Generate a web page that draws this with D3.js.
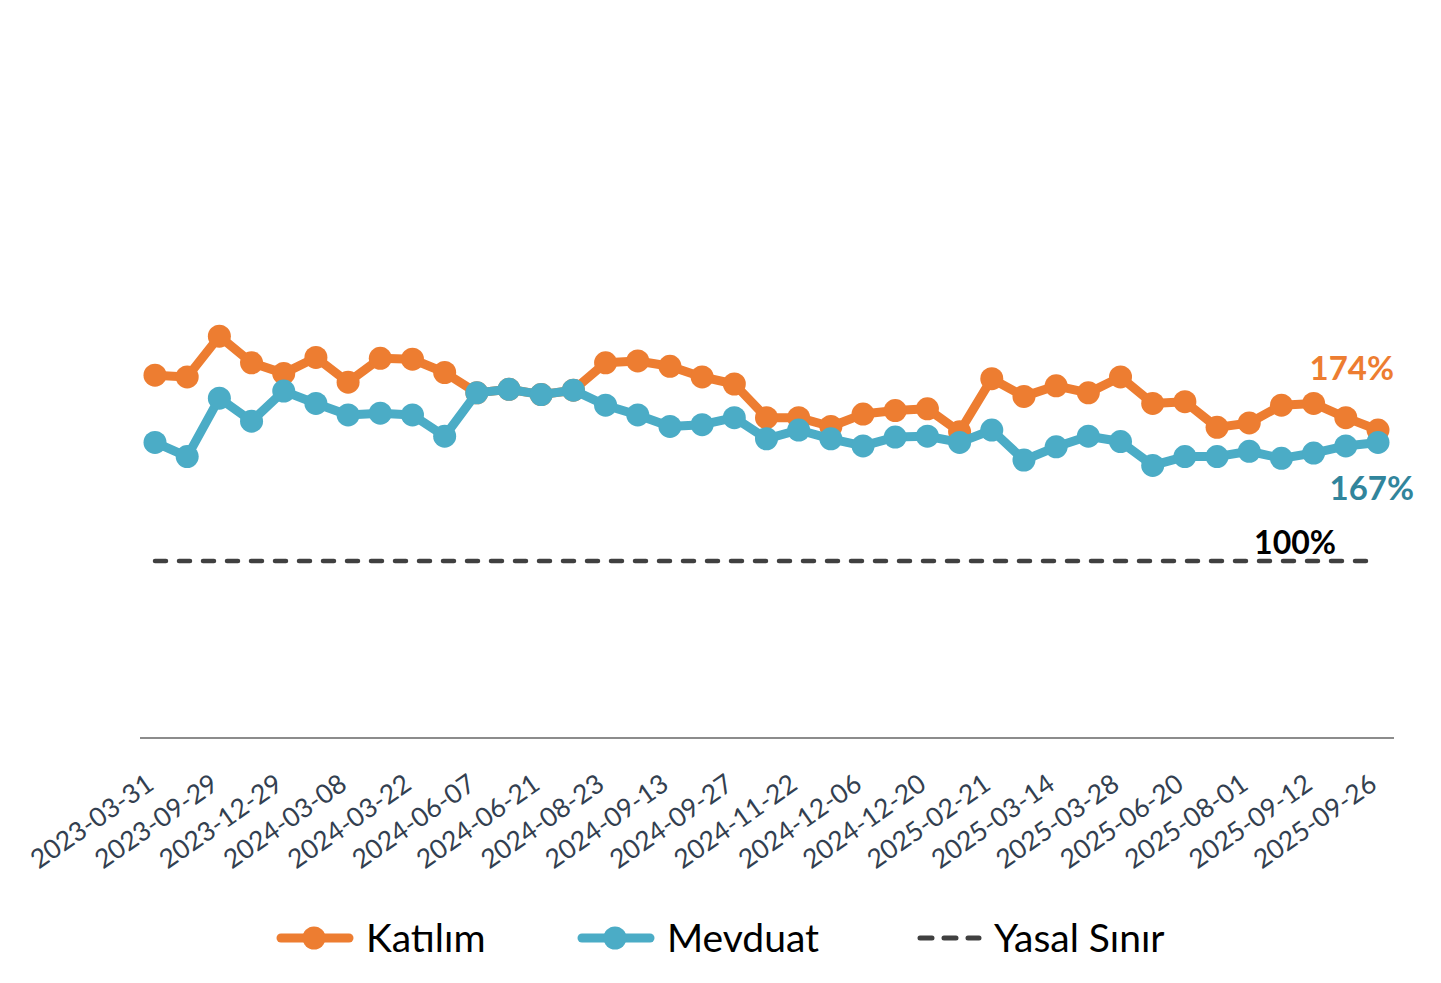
<!DOCTYPE html>
<html>
<head>
<meta charset="utf-8">
<script src="https://cdn.jsdelivr.net/npm/d3@7"></script>
<style>
  body { margin: 0; background: #fff; }
  svg { font-family: Lato, "Open Sans", sans-serif; }
</style>
</head>
<body>
<svg width="1441" height="983"></svg>
<script>
const tickLabels = ["2023-03-31", "2023-09-29", "2023-12-29", "2024-03-08", "2024-03-22",
  "2024-06-07", "2024-06-21", "2024-08-23", "2024-09-13", "2024-09-27", "2024-11-22",
  "2024-12-06", "2024-12-20", "2025-02-21", "2025-03-14", "2025-03-28", "2025-06-20",
  "2025-08-01", "2025-09-12", "2025-09-26"];

// weekly points, only every other one carries a date label
const katilim = [205, 204, 227, 212, 206, 215, 201, 214.5, 214, 206.5,
  195, 197, 194, 196.5, 212, 213, 210, 204, 200, 181,
  181, 176, 183, 185, 186, 173, 203, 193, 199, 195,
  204, 189, 190, 175.5, 178, 188, 189, 181, 174];
const mevduat = [167, 159, 192, 179, 196, 189, 182.5, 183.5, 182.5, 170.5,
  195, 197, 194, 196.5, 188, 182.5, 176, 177, 181, 169,
  174, 169, 165, 170, 170.5, 167, 174, 157, 164.5, 170.5,
  167.5, 154, 159, 159, 162, 158, 161, 165, 167];
const yasalSinir = 100;

const colors = { katilim: "#ED7D31", mevduat: "#4BACC6", limit: "#404040" };

const svg = d3.select("svg");
const n = katilim.length;

const x = d3.scalePoint().domain(d3.range(n)).range([155, 1378]);
const y = d3.scaleLinear().domain([0, 400]).range([738, 30]);

// category axis
const xAxis = svg.append("g")
  .attr("transform", "translate(0,738)")
  .call(d3.axisBottom(x)
    .tickValues(d3.range(0, n, 2))
    .tickFormat(i => tickLabels[i / 2])
    .tickSize(0));
xAxis.attr("font-family", null).attr("font-size", null);
xAxis.select(".domain").remove();
svg.append("line")
  .attr("x1", 140).attr("x2", 1394)
  .attr("y1", 738).attr("y2", 738)
  .attr("stroke", "#8c8c8c").attr("stroke-width", 2);
xAxis.selectAll("text")
  .attr("fill", "#333F50")
  .style("font-size", "26.5px")
  .attr("text-anchor", "end")
  .attr("dy", 0)
  .attr("y", 0)
  .attr("transform", "translate(0,50) rotate(-35)");

// legal limit
svg.append("line")
  .attr("x1", x(0)).attr("x2", x(n - 1))
  .attr("y1", y(yasalSinir)).attr("y2", y(yasalSinir))
  .attr("stroke", colors.limit)
  .attr("stroke-width", 4.5)
  .attr("stroke-linecap", "round")
  .attr("stroke-dasharray", "11 13");

const line = d3.line().x((d, i) => x(i)).y(d => y(d));

function drawSeries(data, color) {
  svg.append("path")
    .datum(data)
    .attr("fill", "none")
    .attr("stroke", color)
    .attr("stroke-width", 9)
    .attr("stroke-linejoin", "round")
    .attr("d", line);
  svg.append("g").selectAll("circle")
    .data(data)
    .join("circle")
    .attr("cx", (d, i) => x(i))
    .attr("cy", d => y(d))
    .attr("r", 11.5)
    .attr("fill", color);
}
drawSeries(katilim, colors.katilim);
drawSeries(mevduat, colors.mevduat);

// end labels
const last = n - 1;
svg.append("text")
  .attr("x", x(last) + 16).attr("y", y(katilim[last]) - 50)
  .attr("text-anchor", "end")
  .attr("fill", colors.katilim)
  .attr("font-weight", "bold").style("font-size", "33px")
  .text(d3.format(".0f")(katilim[last]) + "%");
svg.append("text")
  .attr("x", x(last) + 36).attr("y", y(mevduat[last]) + 58)
  .attr("text-anchor", "end")
  .attr("fill", "#31859C")
  .attr("font-weight", "bold").style("font-size", "33px")
  .text(d3.format(".0f")(mevduat[last]) + "%");
svg.append("text")
  .attr("x", 1336).attr("y", y(yasalSinir) - 7)
  .attr("text-anchor", "end")
  .attr("fill", "#000")
  .attr("font-weight", "bold").style("font-size", "32px")
  .text(yasalSinir + "%");

// legend
const legendItems = [
  { name: "Katılım", color: colors.katilim, x0: 277, dashed: false },
  { name: "Mevduat", color: colors.mevduat, x0: 578, dashed: false },
  { name: "Yasal Sınır", color: colors.limit, x0: 917, dashed: true }
];
const legend = svg.append("g").attr("transform", "translate(0,938)");
legendItems.forEach(d => {
  const g = legend.append("g").attr("transform", `translate(${d.x0},0)`);
  if (d.dashed) {
    g.append("line").attr("x1", 3).attr("x2", 62)
      .attr("stroke", d.color).attr("stroke-width", 5)
      .attr("stroke-linecap", "round").attr("stroke-dasharray", "12 12");
  } else {
    g.append("line").attr("x1", 4).attr("x2", 72)
      .attr("stroke", d.color).attr("stroke-width", 9)
      .attr("stroke-linecap", "round");
    g.append("circle").attr("cx", 37).attr("r", 11.5).attr("fill", d.color);
  }
  g.append("text")
    .attr("x", d.dashed ? 77 : 89).attr("y", 0)
    .attr("dy", "0.35em")
    .attr("fill", "#000")
    .style("font-size", "39px")
    .text(d.name);
});
</script>
</body>
</html>
